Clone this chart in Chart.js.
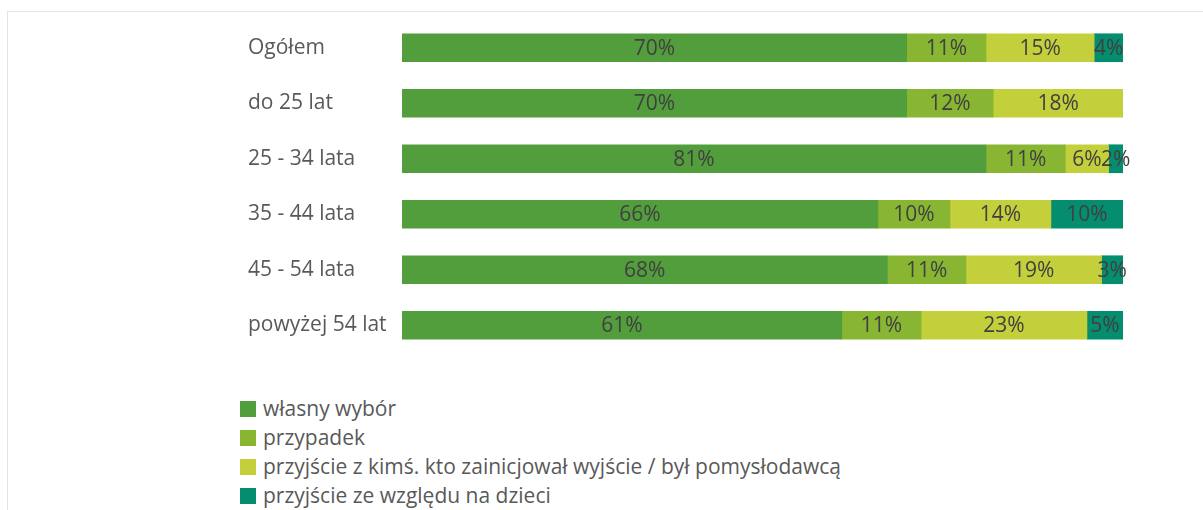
<!DOCTYPE html>
<html>
<head>
<meta charset="utf-8">
<script src="https://cdn.jsdelivr.net/npm/chart.js@4"></script>
<style>
  html, body { margin: 0; padding: 0; background: #fff; }
  body { width: 1203px; height: 510px; position: relative; overflow: hidden; font-family: "Open Sans", sans-serif; }
  .frame { position: absolute; left: 7px; top: 11px; right: 0; bottom: 0; border-top: 1px solid #e4e4e4; border-left: 1px solid #e4e4e4; }
  #wrap { position: absolute; left: 0; top: 0; width: 1203px; height: 370px; }
  #legend { position: absolute; left: 240px; top: 394px; list-style: none; margin: 0; padding: 0; }
  #legend li { height: 29px; line-height: 29px; font-size: 21px; color: #595959; display: flex; align-items: center; }
  #legend span.box { width: 16px; height: 16px; margin-right: 7px; display: inline-block; }
</style>
</head>
<body>
<div class="frame"></div>
<div id="wrap"><canvas id="chart"></canvas></div>
<ul id="legend"></ul>
<script>
// ---------- dane ----------
const categories = ['Ogółem', 'do 25 lat', '25 - 34 lata', '35 - 44 lata', '45 - 54 lata', 'powyżej 54 lat'];
const seriesNames = [
    'własny wybór',
    'przypadek',
    'przyjście z kimś. kto zainicjował wyjście / był pomysłodawcą',
    'przyjście ze względu na dzieci'
];
const wlasnyWybor = [70, 70, 81, 66, 68, 61];
const przypadek   = [11, 12, 11, 10, 11, 11];
const zKims       = [15, 18, 6, 14, 19, 23];
const dzieci      = [4, null, 2, 10, 3, 5];
const colors = ['#529e3c', '#88b633', '#c4d03b', '#058d6f'];

const rawSeries = [wlasnyWybor, przypadek, zKims, dzieci];

// udział w sumie wiersza (słupki 100%)
const rowSums = categories.map((c, i) => rawSeries.reduce((s, arr) => s + (arr[i] || 0), 0));
const share = arr => arr.map((v, i) => v == null ? null : v / rowSums[i] * 100);

// etykiety wartości na środku segmentów
const barLabels = {
    id: 'barLabels',
    afterDatasetsDraw(chart) {
        const ctx = chart.ctx;
        ctx.save();
        ctx.font = '21px "Open Sans", sans-serif';
        ctx.fillStyle = '#404040';
        ctx.textAlign = 'center';
        ctx.textBaseline = 'middle';
        chart.data.datasets.forEach((ds, di) => {
            const meta = chart.getDatasetMeta(di);
            meta.data.forEach((el, i) => {
                const v = rawSeries[di][i];
                if (v == null) return;
                ctx.fillText(v + '%', (el.x + el.base) / 2, el.y + 1);
            });
        });
        ctx.restore();
    }
};

const chart = new Chart(document.getElementById('chart'), {
    type: 'bar',
    data: {
        labels: categories,
        datasets: rawSeries.map((arr, i) => ({
            label: seriesNames[i],
            data: share(arr),
            backgroundColor: colors[i],
            borderWidth: 0,
            barThickness: 28
        }))
    },
    options: {
        indexAxis: 'y',
        responsive: true,
        maintainAspectRatio: false,
        animation: false,
        layout: { padding: { left: 248, right: 80, top: 20, bottom: 17 } },
        plugins: { legend: { display: false }, tooltip: { enabled: false } },
        scales: {
            x: { stacked: true, min: 0, max: 100, display: false },
            y: {
                stacked: true,
                grid: { display: false },
                border: { display: false },
                ticks: { crossAlign: 'far', color: '#595959', font: { family: 'Open Sans', size: 21 }, padding: 0 },
                afterFit(scale) { scale.width = 154; }
            }
        }
    },
    plugins: [barLabels]
});

// legenda w HTML (pionowa lista pod wykresem)
const legend = document.getElementById('legend');
seriesNames.forEach((name, i) => {
    const li = document.createElement('li');
    li.innerHTML = `<span class="box" style="background:${colors[i]}"></span>${name}`;
    legend.appendChild(li);
});
</script>
</body>
</html>
